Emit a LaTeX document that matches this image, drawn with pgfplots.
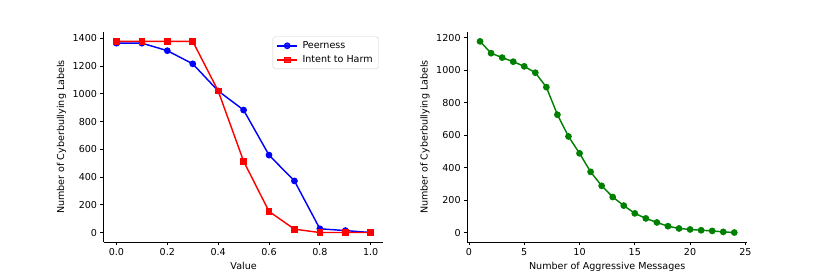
\documentclass[border=0pt]{standalone}
\usepackage{pgfplots}
\pgfplotsset{compat=1.18}
\usepackage{fontspec}
\setmainfont{DejaVu Sans}
\definecolor{mplgreen}{RGB}{0,128,0}
\pgfplotsset{
  mystyle/.style={
    scale only axis, width=4.0435in, height=3.04in,
    axis lines*=left, axis line style={line width=0.8pt,-},
    every tick/.style={line width=0.8pt, black},
    major tick length=3.5pt, tick align=outside,
    ticklabel style={font=\fontsize{10}{12}\selectfont},
    label style={font=\fontsize{10}{12}\selectfont},
    /pgf/number format/assume math mode=true,
    scaled ticks=false,
    every axis plot/.append style={line width=1.5pt},
  }
}
\begin{document}
\begin{tikzpicture}
\useasboundingbox (0,0) rectangle (12in,4in);
\begin{axis}[mystyle, at={(1.5in,0.5in)}, anchor=south west,
  xmin=-0.05, xmax=1.05, ymin=-68.9, ymax=1446.9,
  xtick={0,0.2,0.4,0.6,0.8,1.0},
  xticklabel={\pgfmathprintnumber[fixed,fixed zerofill,precision=1]{\tick}},
  ytick={0,200,400,600,800,1000,1200,1400},
  yticklabel={\pgfmathprintnumber[fixed,precision=0,1000 sep={}]{\tick}},
  xlabel={Value}, ylabel={Number of Cyberbullying Labels},
  legend style={at={(1,1)}, anchor=north east, xshift=-5pt, yshift=-5pt,
    draw=black!20, rounded corners=2pt, fill=white, fill opacity=0.8, text opacity=1,
    font=\fontsize{10}{12}\selectfont, inner xsep=4pt, inner ysep=3pt,
    row sep=2pt, cells={anchor=west},
    /tikz/every odd column/.append style={column sep=3pt}},
  legend image code/.code={\draw[mark repeat=2,mark phase=2] plot coordinates {(0cm,0cm)(0.36cm,0cm)(0.72cm,0cm)};},
]
\addplot[color=blue, mark=*, mark size=3pt, mark options={line width=1pt}] coordinates {
(0.0,1365) (0.1,1365) (0.2,1311) (0.3,1216) (0.4,1021) (0.5,883) (0.6,558) (0.7,372) (0.8,27) (0.9,14) (1.0,0)};
\addlegendentry{Peerness}
\addplot[color=red, mark=square*, mark size=3pt, mark options={line width=1pt}] coordinates {
(0.0,1378) (0.1,1378) (0.2,1378) (0.3,1378) (0.4,1021) (0.5,514) (0.6,152) (0.7,24) (0.8,0) (0.9,0) (1.0,0)};
\addlegendentry{Intent to Harm}
\end{axis}
\begin{axis}[mystyle, at={(6.7565in,0.5in)}, anchor=south west,
  xmin=-0.15, xmax=25.15, ymin=-58.9, ymax=1236.9,
  xtick={0,5,10,15,20,25},
  ytick={0,200,400,600,800,1000,1200},
  yticklabel={\pgfmathprintnumber[fixed,precision=0,1000 sep={}]{\tick}},
  xlabel={Number of Aggressive Messages}, ylabel={Number of Cyberbullying Labels},
]
\addplot[color=mplgreen, mark=*, mark size=3pt, mark options={line width=1pt}] coordinates {
(1,1178) (2,1105) (3,1078) (4,1053) (5,1024) (6,985) (7,896) (8,726) (9,592) (10,488) (11,374) (12,288) (13,219) (14,166) (15,118) (16,87) (17,62) (18,39) (19,25) (20,19) (21,14) (22,10) (23,4) (24,0)};
\end{axis}
\end{tikzpicture}
\end{document}
